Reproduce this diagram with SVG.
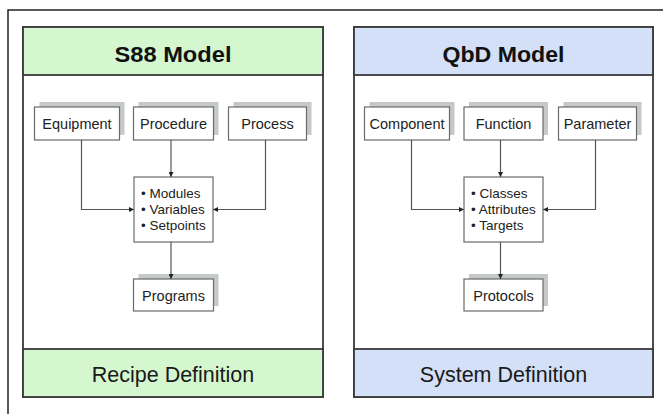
<svg xmlns="http://www.w3.org/2000/svg" width="663" height="414" viewBox="0 0 663 414">
<defs>
<style>
.frame{fill:none;stroke:#222;stroke-width:1.5}
.panel{fill:#fff;stroke:#3a3a3a;stroke-width:1.8}
.green{fill:#d5f7cf;stroke:#3a3a3a;stroke-width:1.8}
.blue{fill:#d3e0f8;stroke:#3a3a3a;stroke-width:1.8}
.box{fill:#fff;stroke:#6a6a6a;stroke-width:1.2}
.shadow{fill:#c6cac6}
.title{font-family:"Liberation Sans",Arial,sans-serif;font-weight:bold;font-size:22px;fill:#111;text-anchor:middle}
.foot{font-family:"Liberation Sans",Arial,sans-serif;font-size:21.5px;fill:#1a1a1a;text-anchor:middle}
.lbl{font-family:"Liberation Sans",Arial,sans-serif;font-size:14.5px;fill:#222;text-anchor:middle}
.list{font-family:"Liberation Sans",Arial,sans-serif;font-size:13.5px;fill:#222}
.conn{fill:none;stroke:#555;stroke-width:1.2}
</style>
<marker id="arr" viewBox="0 0 10 10" refX="10" refY="5" markerWidth="5" markerHeight="5" orient="auto" markerUnits="userSpaceOnUse">
<path d="M0,0 L10,5 L0,10 z" fill="#222"/>
</marker>
</defs>
<rect width="663" height="414" fill="#fff"/>
<path class="frame" d="M8,414 V10 H663"/>

<g id="s88-panel">
<rect class="panel" x="23" y="27" width="300" height="370"/>
<rect class="green" x="23" y="27" width="300" height="48"/>
<rect class="green" x="23" y="349" width="300" height="48"/>
<text class="title" x="173" y="61.5" textLength="117" lengthAdjust="spacingAndGlyphs">S88 Model</text>
<text class="foot" x="173" y="381.5">Recipe Definition</text>
</g>

<g id="qbd-panel">
<rect class="panel" x="354" y="27" width="299" height="370"/>
<rect class="blue" x="354" y="27" width="299" height="48"/>
<rect class="blue" x="354" y="349" width="299" height="48"/>
<text class="title" x="503.5" y="61.5" textLength="122" lengthAdjust="spacingAndGlyphs">QbD Model</text>
<text class="foot" x="503.5" y="381.5">System Definition</text>
</g>

<g id="equipment">
<rect class="shadow" x="39.5" y="102" width="85" height="33"/>
<rect class="box" x="34.5" y="107" width="85" height="33"/>
<text class="lbl" x="77" y="129">Equipment</text>
</g>
<g id="procedure">
<rect class="shadow" x="138.5" y="102" width="80" height="33"/>
<rect class="box" x="133.5" y="107" width="80" height="33"/>
<text class="lbl" x="173.5" y="129">Procedure</text>
</g>
<g id="process">
<rect class="shadow" x="233.5" y="102" width="78" height="33"/>
<rect class="box" x="228.5" y="107" width="78" height="33"/>
<text class="lbl" x="267.5" y="129">Process</text>
</g>
<g id="s88-center">
<rect class="box" x="134" y="177" width="79" height="65"/>
<text class="list" x="141" y="197.5">• Modules</text>
<text class="list" x="141" y="213.5">• Variables</text>
<text class="list" x="141" y="229.5">• Setpoints</text>
</g>
<g id="programs">
<rect class="shadow" x="138.5" y="274" width="80" height="32"/>
<rect class="box" x="133.5" y="279" width="80" height="32"/>
<text class="lbl" x="173.5" y="300.5">Programs</text>
</g>

<g id="component">
<rect class="shadow" x="369.5" y="102" width="85" height="33"/>
<rect class="box" x="364.5" y="107" width="85" height="33"/>
<text class="lbl" x="407" y="129">Component</text>
</g>
<g id="function">
<rect class="shadow" x="469" y="102" width="79" height="33"/>
<rect class="box" x="464" y="107" width="79" height="33"/>
<text class="lbl" x="503.5" y="129">Function</text>
</g>
<g id="parameter">
<rect class="shadow" x="563.5" y="102" width="78" height="33"/>
<rect class="box" x="558.5" y="107" width="78" height="33"/>
<text class="lbl" x="597.5" y="129">Parameter</text>
</g>
<g id="qbd-center">
<rect class="box" x="464" y="177" width="79" height="65"/>
<text class="list" x="471" y="197.5">• Classes</text>
<text class="list" x="471" y="213.5">• Attributes</text>
<text class="list" x="471" y="229.5">• Targets</text>
</g>
<g id="protocols">
<rect class="shadow" x="469" y="274" width="79" height="32"/>
<rect class="box" x="464" y="279" width="79" height="32"/>
<text class="lbl" x="503.5" y="300.5">Protocols</text>
</g>

<g id="connectors">
<path class="conn" marker-end="url(#arr)" d="M81.5,140 V209.5 H134"/>
<path class="conn" marker-end="url(#arr)" d="M171,140 V177"/>
<path class="conn" marker-end="url(#arr)" d="M265.5,140 V209.5 H213"/>
<path class="conn" marker-end="url(#arr)" d="M171,242 V279"/>
<path class="conn" marker-end="url(#arr)" d="M411.5,140 V209.5 H464"/>
<path class="conn" marker-end="url(#arr)" d="M500.5,140 V177"/>
<path class="conn" marker-end="url(#arr)" d="M595.5,140 V209.5 H543"/>
<path class="conn" marker-end="url(#arr)" d="M500.5,242 V279"/>
</g>
</svg>
